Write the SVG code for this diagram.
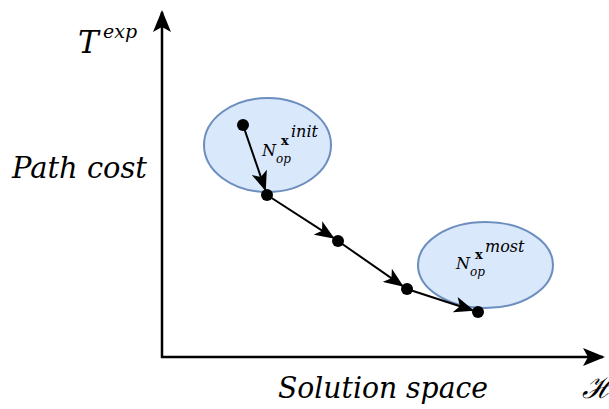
<svg xmlns="http://www.w3.org/2000/svg" width="609" height="409" viewBox="0 0 609 409">
<style>
.math{font-family:"DejaVu Serif",serif;font-style:italic;fill:#000}
.bx{font-family:"DejaVu Serif",serif;font-weight:bold;fill:#000}
.ell{fill:#dae8fc;stroke:#6c8ebf;stroke-width:2}
.ax{stroke:#000;stroke-width:2.5;fill:none}
.edge{stroke:#000;stroke-width:2;fill:none;marker-end:url(#ah)}
.dot{fill:#000}
</style>
<defs>
<marker id="ah" viewBox="0 0 20 16" refX="18" refY="8" markerWidth="20" markerHeight="16" markerUnits="userSpaceOnUse" orient="auto">
<path d="M0,0 L20,8 L0,16 L5,8 Z" fill="#000"/>
</marker>
<marker id="axh" viewBox="0 0 22 18" refX="20" refY="9" markerWidth="22" markerHeight="18" markerUnits="userSpaceOnUse" orient="auto">
<path d="M0,0 L22,9 L0,18 L5,9 Z" fill="#000"/>
</marker>
</defs>
<g id="axes">
<line class="ax" x1="162" y1="358" x2="162" y2="12" marker-end="url(#axh)"/>
<line class="ax" x1="161" y1="357" x2="603" y2="357" marker-end="url(#axh)"/>
</g>
<g id="node-init">
<ellipse class="ell" cx="267.5" cy="145" rx="63.5" ry="47"/>
<text class="math" x="262" y="156" font-size="16">N</text>
<text class="math" x="276" y="163" font-size="12">op</text>
<text class="bx" x="281" y="145" font-size="13">x</text>
<text class="math" x="291" y="137" font-size="16">init</text>
</g>
<g id="node-most">
<ellipse class="ell" cx="485.5" cy="265" rx="67.5" ry="43"/>
<text class="math" x="456" y="269" font-size="16">N</text>
<text class="math" x="470" y="276" font-size="12">op</text>
<text class="bx" x="475" y="259" font-size="13">x</text>
<text class="math" x="485" y="252" font-size="16">most</text>
</g>
<g id="connectors">
<line class="edge" x1="243" y1="125" x2="265.1" y2="189.3"/>
<line class="edge" x1="267" y1="195" x2="333" y2="237.7"/>
<line class="edge" x1="338" y1="241" x2="402.1" y2="285.6"/>
<line class="edge" x1="407" y1="289" x2="472.3" y2="310.2"/>
</g>
<g id="points">
<circle class="dot" cx="243" cy="125" r="6"/>
<circle class="dot" cx="267" cy="195" r="6"/>
<circle class="dot" cx="338" cy="241" r="6"/>
<circle class="dot" cx="407" cy="289" r="6"/>
<circle class="dot" cx="478" cy="312" r="6"/>
</g>
<g id="labels">
<text class="math" x="78" y="53" font-size="31">T</text>
<text class="math" x="103" y="38" font-size="19">exp</text>
<text class="math" x="12" y="178" font-size="29" textLength="135" lengthAdjust="spacingAndGlyphs">Path cost</text>
<text class="math" x="278" y="398" font-size="29" textLength="210" lengthAdjust="spacingAndGlyphs">Solution space</text>
<text class="math" x="582" y="398" font-size="30">ℋ</text>
</g>
</svg>
